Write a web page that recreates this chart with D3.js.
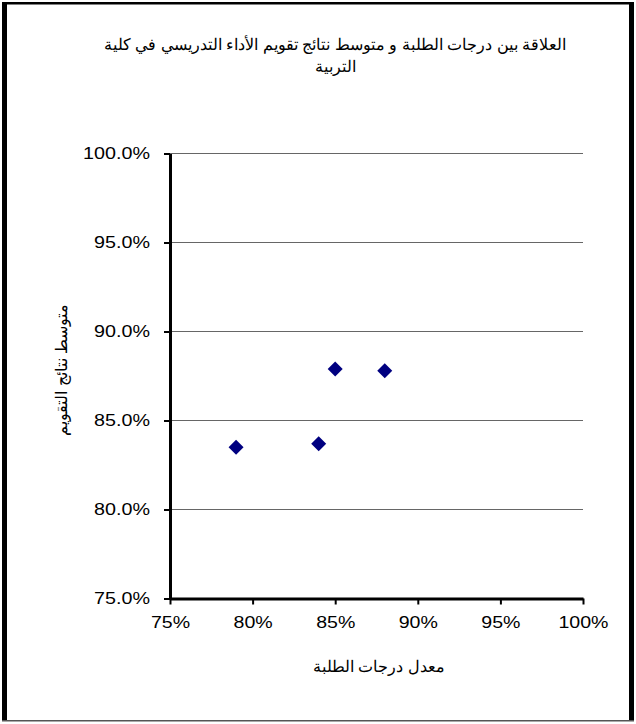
<!DOCTYPE html>
<html><head><meta charset="utf-8">
<script src="https://cdn.jsdelivr.net/npm/d3@7"></script>
<style>body{margin:0;background:#fff}svg{display:block}text{font-family:Arial,"Liberation Sans",sans-serif}</style>
</head><body>
<script>
const titleLines = ["العلاقة بين درجات الطلبة و متوسط نتائج تقويم الأداء التدريسي في كلية", "التربية"];
const xLabel = "معدل درجات الطلبة";
const yLabel = "متوسط نتائج التقويم";
const xValues = [0.79, 0.84, 0.85, 0.88];
const yValues = [0.835, 0.837, 0.879, 0.878];
const xTicks = [0.75, 0.80, 0.85, 0.90, 0.95, 1.00];
const yTicks = [0.75, 0.80, 0.85, 0.90, 0.95, 1.00];

const W = 636, H = 724;
const svg = d3.select("body").append("svg").attr("width", W).attr("height", H);
svg.append("rect").attr("width", W).attr("height", H).attr("fill", "#fff");
// frame
svg.append("rect").attr("x", 2).attr("y", 2).attr("width", 631).attr("height", 2.5).attr("fill", "#000");
svg.append("rect").attr("x", 2).attr("y", 2).attr("width", 5).attr("height", 719).attr("fill", "#000");
svg.append("rect").attr("x", 629).attr("y", 2).attr("width", 5).attr("height", 719).attr("fill", "#000");
svg.append("rect").attr("x", 2).attr("y", 720).attr("width", 632).attr("height", 1.5).attr("fill", "#555");

const x = d3.scaleLinear().domain([0.75, 1.0]).range([170, 583]);
const y = d3.scaleLinear().domain([0.75, 1.0]).range([598.5, 153.5]);

// gridlines
svg.append("g").selectAll("line").data(yTicks.filter(d => d > 0.75)).join("line")
  .attr("x1", 170).attr("x2", 583).attr("y1", d => y(d)).attr("y2", d => y(d))
  .attr("stroke", "#666").attr("stroke-width", 1.2);

function stretch(sel, k) {
  sel.each(function() {
    const w = this.getComputedTextLength();
    d3.select(this).attr("textLength", w * k).attr("lengthAdjust", "spacingAndGlyphs");
  });
}

// y axis
const yAxis = svg.append("g").attr("transform", "translate(170,0)")
  .call(d3.axisLeft(y).tickValues(yTicks).tickFormat(d3.format(".1%")).tickSizeInner(6).tickSizeOuter(0).tickPadding(14));
yAxis.select(".domain").attr("stroke", "#000").attr("stroke-width", 3);
yAxis.selectAll(".tick line").attr("stroke", "#000").attr("stroke-width", 2);
yAxis.selectAll("text").attr("font-size", 17).attr("fill", "#000")
  .attr("font-family", "Arial, 'Liberation Sans', sans-serif").call(stretch, 1.16);

// x axis
const xAxis = svg.append("g").attr("transform", "translate(0,598.5)")
  .call(d3.axisBottom(x).tickValues(xTicks).tickFormat(d3.format(".0%")).tickSizeInner(6).tickSizeOuter(0).tickPadding(11));
xAxis.select(".domain").attr("stroke", "#000").attr("stroke-width", 3);
xAxis.selectAll(".tick line").attr("stroke", "#000").attr("stroke-width", 2);
xAxis.selectAll("text").attr("font-size", 17).attr("fill", "#000")
  .attr("font-family", "Arial, 'Liberation Sans', sans-serif").call(stretch, 1.15);

// points
const pts = xValues.map((v, i) => ({x: v, y: yValues[i]}));
svg.append("g").selectAll("path").data(pts).join("path")
  .attr("transform", d => `translate(${x(d.x)},${y(d.y)})`)
  .attr("d", "M0,-7.5L7.5,0L0,7.5L-7.5,0Z")
  .attr("fill", "#000080");

// title
svg.append("g").selectAll("text").data(titleLines).join("text")
  .attr("x", 335).attr("y", (d, i) => 50 + i * 22)
  .attr("text-anchor", "middle").attr("direction", "rtl").attr("font-size", 16).attr("fill", "#000")
  .text(d => d);

// axis titles
svg.append("text").attr("x", 379).attr("y", 672).attr("text-anchor", "middle").attr("direction", "rtl")
  .attr("font-size", 16).attr("fill", "#000").text(xLabel);
svg.append("text").attr("transform", "translate(67,370) rotate(-90)").attr("text-anchor", "middle").attr("direction", "rtl")
  .attr("font-size", 16).attr("fill", "#000").text(yLabel);
</script>
</body></html>
